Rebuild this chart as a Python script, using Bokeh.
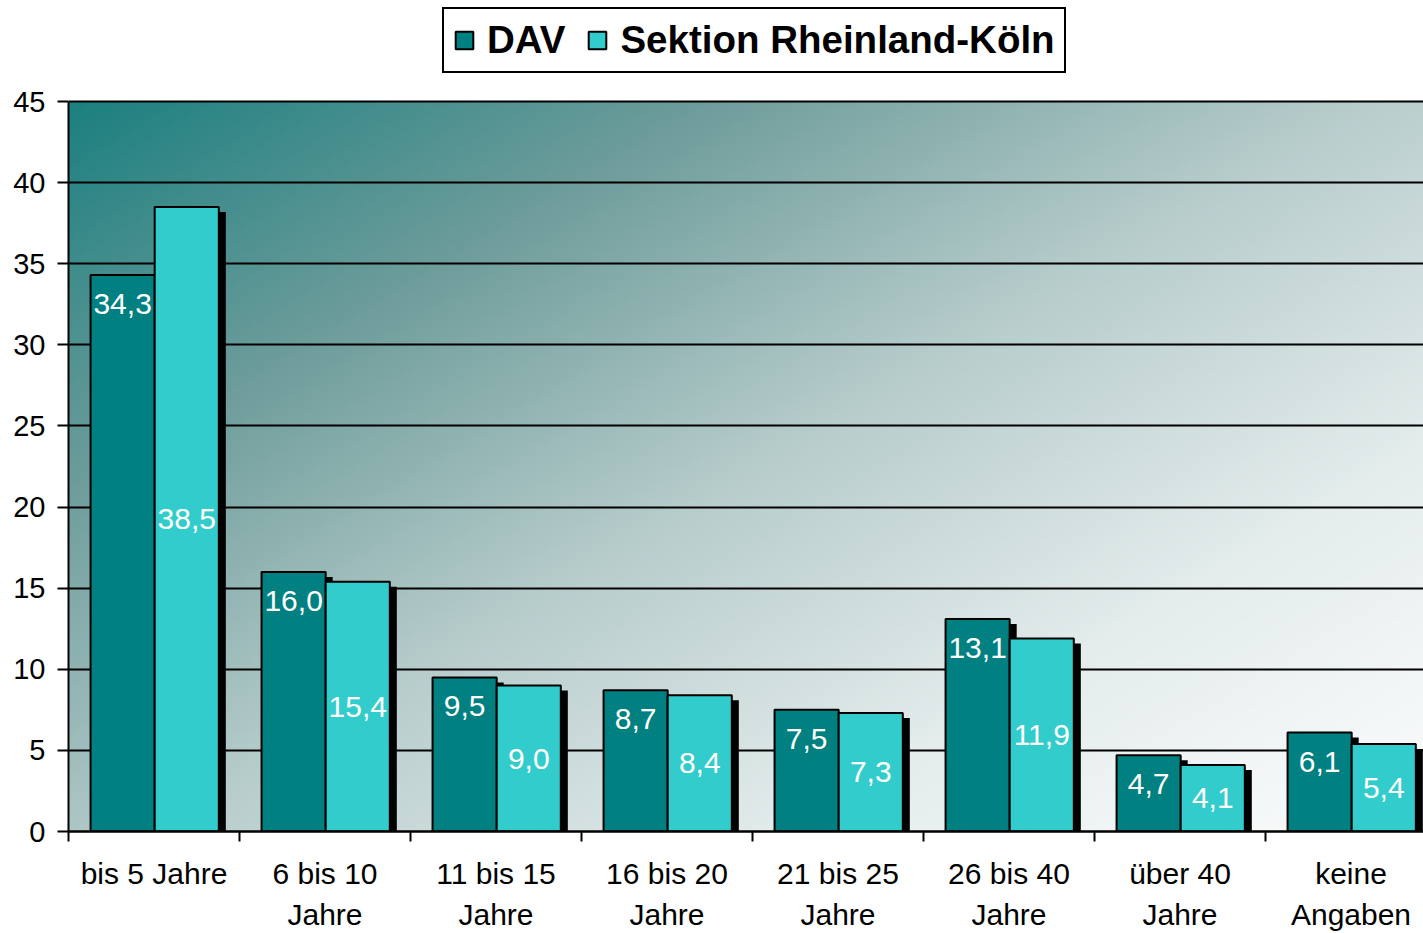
import numpy as np
from bokeh.plotting import figure
from bokeh.models import (Range1d, FixedTicker, Legend, LegendItem)
from bokeh.core.properties import value
from bokeh.embed import file_html
from bokeh.resources import INLINE

# ---- data ----
categories = ["bis 5 Jahre", "6 bis 10\nJahre", "11 bis 15\nJahre", "16 bis 20\nJahre",
              "21 bis 25\nJahre", "26 bis 40\nJahre", "über 40\nJahre", "keine\nAngaben"]
dav = [34.3, 16.0, 9.5, 8.7, 7.5, 13.1, 4.7, 6.1]
sektion = [38.5, 15.4, 9.0, 8.4, 7.3, 11.9, 4.1, 5.4]
y_ticks = [0, 5, 10, 15, 20, 25, 30, 35, 40, 45]
series_names = ["DAV", "Sektion Rheinland-Köln"]

FONT = "Liberation Sans"
C_DAV = "#008080"
C_SEK = "#33CCCC"

n = len(categories)
y_max = 45
px_per_unit_y = 730 / y_max
frame_px_h = 831
y_top = frame_px_h / px_per_unit_y   # room above the value axis for the legend
frame_px_w = 1355
x_end = frame_px_w / 171.0           # last category is cut by the right edge, as in the original

idx = np.arange(n)
bw = 0.375
shift = 0.004
x_dav = idx + 0.5 - bw / 2 + shift
x_sek = idx + 0.5 + bw / 2 + shift
dx = 0.041   # shadow offset (~7px)
dy = 0.31    # shadow offset (~5px)

def fmt(v):
    return f"{v:.1f}".replace(".", ",")

p = figure(width=1423, height=933, output_backend="svg", toolbar_location=None,
           x_range=Range1d(0, x_end), y_range=Range1d(0, y_top),
           min_border_left=68, min_border_right=0, min_border_top=0, min_border_bottom=101)
p.border_fill_color = "white"
p.background_fill_color = "white"
p.outline_line_color = None

# ---- gradient background ----
H, W = 200, 300
u = np.linspace(0, 1, W)[None, :]
v = (1 - np.linspace(0, 1, H))[:, None]   # distance from top
t = 0.53 * u + 0.47 * v
stops_t = [0.0, 0.25, 0.5, 0.75, 1.0]
stops_c = np.array([[28, 128, 128], [110, 157, 155], [182, 204, 203], [228, 236, 236], [252, 253, 253]])
rgb = [np.interp(t, stops_t, stops_c[:, k]) for k in range(3)]
img = np.zeros((H, W), dtype=np.uint32)
view = img.view(dtype=np.uint8).reshape((H, W, 4))
view[:, :, 0] = rgb[0].astype(np.uint8)
view[:, :, 1] = rgb[1].astype(np.uint8)
view[:, :, 2] = rgb[2].astype(np.uint8)
view[:, :, 3] = 255
p.image_rgba(image=[img], x=0, y=0, dw=x_end, dh=y_max, level="image")

# ---- bars with shadows ----
p.quad(left=x_dav - bw / 2 + dx, right=x_dav + bw / 2 + dx, top=np.array(dav) - dy, bottom=0,
       fill_color="black", line_color=None)
r_dav = p.vbar(x=x_dav, top=dav, width=bw, bottom=0, fill_color=C_DAV, line_color="black", line_width=2)
p.quad(left=x_sek - bw / 2 + dx, right=x_sek + bw / 2 + dx, top=np.array(sektion) - dy, bottom=0,
       fill_color="black", line_color=None)
r_sek = p.vbar(x=x_sek, top=sektion, width=bw, bottom=0, fill_color=C_SEK, line_color="black", line_width=2)

# ---- value labels ----
p.text(x=x_dav, y=dav, text=[fmt(a) for a in dav], y_offset=29,
       text_color="white", text_font=value(FONT), text_font_size="30px",
       text_align="center", text_baseline="middle")
p.text(x=x_sek, y=np.array(sektion) / 2, text=[fmt(a) for a in sektion],
       text_color="white", text_font=value(FONT), text_font_size="30px",
       text_align="center", text_baseline="middle")

# ---- axes ----
p.yaxis.ticker = FixedTicker(ticks=y_ticks)
p.yaxis.bounds = (0, y_max)
p.yaxis.axis_line_color = "black"
p.yaxis.axis_line_width = 2
p.yaxis.major_tick_line_color = "black"
p.yaxis.major_tick_line_width = 2
p.yaxis.major_tick_out = 11
p.yaxis.major_tick_in = 0
p.yaxis.minor_tick_line_color = None
p.yaxis.major_label_standoff = 12
p.yaxis.major_label_text_font = FONT
p.yaxis.major_label_text_font_size = "29px"
p.yaxis.major_label_text_color = "black"

centers = [float(i) + 0.5 for i in range(n)]
bounds = [float(i) for i in range(n + 1)]
p.xaxis.ticker = FixedTicker(ticks=centers, minor_ticks=bounds)
p.xaxis.major_label_overrides = {c: lab for c, lab in zip(centers, categories)}
p.xaxis.axis_line_color = "black"
p.xaxis.axis_line_width = 2.5
p.xaxis.major_tick_line_color = None
p.xaxis.major_tick_out = 0
p.xaxis.major_tick_in = 0
p.xaxis.minor_tick_line_color = "black"
p.xaxis.minor_tick_line_width = 2
p.xaxis.minor_tick_out = 10
p.xaxis.minor_tick_in = 0
p.xaxis.major_label_standoff = 15
p.xaxis.major_label_text_font = FONT
p.xaxis.major_label_text_font_size = "30px"
p.xaxis.major_label_text_color = "black"
p.xaxis.major_label_text_line_height = 1.25

p.xgrid.grid_line_color = None
p.ygrid.ticker = FixedTicker(ticks=y_ticks)
p.ygrid.grid_line_color = "black"
p.ygrid.grid_line_width = 1.8

# ---- legend ----
legend = Legend(items=[LegendItem(label=series_names[0], renderers=[r_dav]),
                       LegendItem(label=series_names[1], renderers=[r_sek])],
                orientation="horizontal", location=(374, 758))
legend.label_text_font = FONT
legend.label_text_font_style = "bold"
legend.label_text_font_size = "38.5px"
legend.label_text_color = "black"
legend.glyph_width = 22
legend.glyph_height = 22
legend.label_standoff = 12
legend.spacing = 21
legend.padding = 9
legend.margin = 0
legend.border_line_color = "black"
legend.border_line_width = 2
legend.border_line_alpha = 1
legend.background_fill_color = "white"
legend.background_fill_alpha = 1
p.add_layout(legend)

open("out.html", "w").write(file_html(p, INLINE))
